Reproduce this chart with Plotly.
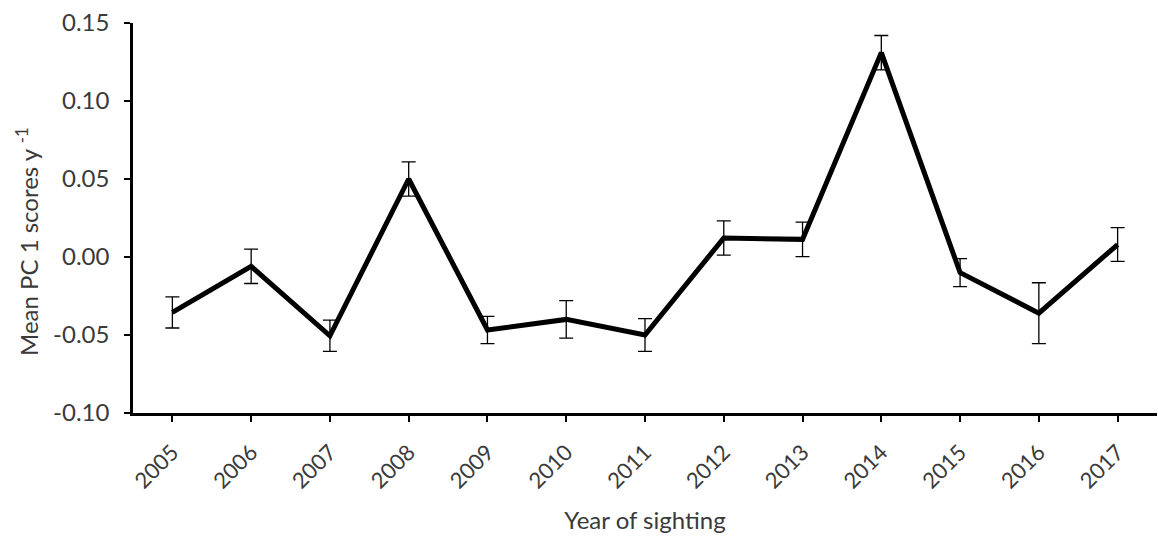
import plotly.graph_objects as go

# Mean PC1 score per sighting year, with error bars
years = ["2005", "2006", "2007", "2008", "2009", "2010", "2011",
         "2012", "2013", "2014", "2015", "2016", "2017"]
mean_pc1 = [-0.0355, -0.006, -0.0505, 0.050, -0.0468, -0.040, -0.050,
            0.0122, 0.0113, 0.131, -0.0100, -0.036, 0.0080]
err_pc1 = [0.010, 0.011, 0.010, 0.011, 0.0087, 0.012, 0.0105,
           0.011, 0.011, 0.011, 0.009, 0.0195, 0.0108]

y_tickvals = [-0.10, -0.05, 0.00, 0.05, 0.10, 0.15]
y_ticktext = ["-0.10", "-0.05", "0.00", "0.05", "0.10", "0.15"]

FONT = "Lato, 'Open Sans', sans-serif"
TEXT = "#3a3a3a"

W, H = 1158, 538
ML, MR, MT, MB = 133, 1, 23, 125
plot_w = W - ML - MR
plot_h = H - MT - MB

fig = go.Figure()
fig.add_trace(go.Scatter(
    x=years, y=mean_pc1,
    mode="lines",
    line=dict(color="black", width=5),
    error_y=dict(type="data", array=err_pc1, visible=True,
                 color="black", thickness=1.3, width=7),
    showlegend=False,
))

# vertical y-axis title placed as an annotation
fig.add_annotation(
    text="Mean PC 1 scores y <sup>-1</sup>",
    textangle=-90,
    xref="paper", yref="paper",
    x=(27 - ML) / plot_w, y=(H - MB - 242) / plot_h,
    xanchor="center", yanchor="middle",
    showarrow=False,
    font=dict(size=24, color=TEXT, family=FONT),
)

fig.update_layout(
    width=W, height=H,
    margin=dict(l=ML, r=MR, t=MT, b=MB),
    paper_bgcolor="white", plot_bgcolor="white",
    font=dict(family=FONT, color=TEXT, size=19),
    xaxis=dict(
        type="category",
        range=[-0.5, 12.5],
        showline=True, linecolor="black", linewidth=2.5,
        ticks="outside", ticklen=6, tickwidth=2, tickcolor="black",
        tickangle=-45,
        ticklabelstandoff=9,
        tickfont=dict(size=22, color=TEXT),
        showgrid=False, zeroline=False,
        title=dict(text="Year of sighting", font=dict(size=24, color=TEXT),
                   standoff=20),
    ),
    yaxis=dict(
        range=[-0.10, 0.15],
        tickvals=y_tickvals, ticktext=y_ticktext,
        showline=True, linecolor="black", linewidth=2.5,
        ticks="outside", ticklen=6, tickwidth=2, tickcolor="black",
        ticklabelstandoff=10,
        tickfont=dict(size=24, color=TEXT),
        showgrid=False, zeroline=False,
    ),
)

fig.write_html("out.html")
